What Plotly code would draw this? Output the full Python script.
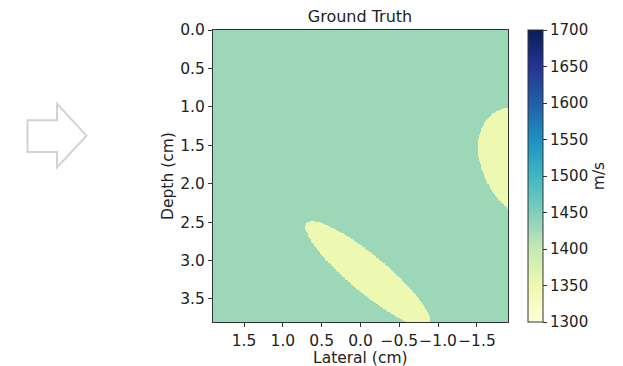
import numpy as np
import plotly.graph_objects as go

# Imaging window (cm)
lateral_limits = [-1.9, 1.9]
depth_limits = [0.0, 3.8]
grid_points = 400

# Sound-speed phantom: homogeneous background with elliptical inclusions
background_speed = 1430
inc_lateral = [-0.09, -2.14]      # centre, lateral (cm)
inc_depth = [3.17, 1.75]          # centre, depth (cm)
inc_semi_major = [1.03, 0.80]     # cm
inc_semi_minor = [0.24, 0.56]     # cm
inc_angle_deg = [140.0, 120.0]    # major-axis orientation
inc_speed = [1350, 1350]          # m/s

speed_ticks = [1300, 1350, 1400, 1450, 1500, 1550, 1600, 1650, 1700]
lateral_ticks = [1.5, 1.0, 0.5, 0.0, -0.5, -1.0, -1.5]
depth_ticks = [0.0, 0.5, 1.0, 1.5, 2.0, 2.5, 3.0, 3.5]

ylgnbu = ['rgb(255,255,217)', 'rgb(237,248,177)', 'rgb(199,233,180)',
          'rgb(127,205,187)', 'rgb(65,182,196)', 'rgb(29,145,192)',
          'rgb(34,94,168)', 'rgb(37,52,148)', 'rgb(8,29,88)']
colorscale = [[i / (len(ylgnbu) - 1), c] for i, c in enumerate(ylgnbu)]

# Rasterise the phantom on a regular grid
lat = np.linspace(lateral_limits[0], lateral_limits[1], grid_points)
dep = np.linspace(depth_limits[0], depth_limits[1], grid_points)
LAT, DEP = np.meshgrid(lat, dep)
speed = np.full(LAT.shape, float(background_speed))
for cx, cy, a, b, ang, c in zip(inc_lateral, inc_depth, inc_semi_major,
                                 inc_semi_minor, inc_angle_deg, inc_speed):
    t = np.deg2rad(ang)
    dx, dy = LAT - cx, DEP - cy
    u = dx * np.cos(t) + dy * np.sin(t)
    v = -dx * np.sin(t) + dy * np.cos(t)
    speed[(u / a) ** 2 + (v / b) ** 2 <= 1.0] = c

font_family = "DejaVu Sans"
fs = 15.5
txt = "#222222"

fig = go.Figure(go.Heatmap(
    x=lat, y=dep, z=speed,
    zmin=speed_ticks[0], zmax=speed_ticks[-1],
    colorscale=colorscale, zsmooth="best",
    colorbar=dict(
        thickness=15, len=1, lenmode="fraction",
        x=1.0665, xanchor="left", y=0.5, yanchor="middle",
        xpad=0, ypad=0,
        outlinewidth=1, outlinecolor="#333333",
        ticks="outside", ticklen=4, tickcolor="#333333",
        tickvals=speed_ticks, tickfont=dict(size=15, color=txt),
        title=dict(text="m/s", side="right", font=dict(size=fs, color=txt)),
    ),
    showscale=True,
))

W, H = 623, 366
ml, mr, mt, mb = 213, 115, 29.5, 43.5
pw, ph = W - ml - mr, H - mt - mb


def px(xp, yp):
    """Convert window pixels to paper coordinates."""
    return (xp - ml) / pw, 1 - (yp - mt) / ph


# Decorative outline arrow on the left
arrow_pts = [(27.5, 120), (57, 120), (57, 103.5), (86.5, 135.5),
             (57, 167.5), (57, 152), (27.5, 152)]
path = "M " + " L ".join("%.4f,%.4f" % px(x, y) for x, y in arrow_pts) + " Z"
fig.add_shape(type="path", path=path, xref="paper", yref="paper",
              line=dict(color="#d2d2d2", width=2), fillcolor="white")

# Axis titles placed explicitly
xt_x, xt_y = px(360, 358.5)
fig.add_annotation(text="Lateral (cm)", xref="paper", yref="paper",
                   x=xt_x, y=xt_y, xanchor="center", yanchor="middle",
                   showarrow=False, font=dict(size=fs, color=txt))
yt_x, yt_y = px(168, 176)
fig.add_annotation(text="Depth (cm)", xref="paper", yref="paper",
                   x=yt_x, y=yt_y, xanchor="center", yanchor="middle",
                   textangle=-90, showarrow=False, font=dict(size=fs, color=txt))

axis_common = dict(
    showline=True, linecolor="#333333", linewidth=1, mirror=True,
    ticks="outside", ticklen=4, tickcolor="#333333", tickangle=0,
    showgrid=False, zeroline=False, automargin=False,
    tickfont=dict(size=fs, color=txt),
)
fig.update_layout(
    width=W, height=H,
    margin=dict(l=ml, r=mr, t=mt, b=mb, autoexpand=False),
    paper_bgcolor="white", plot_bgcolor="white",
    font=dict(family=font_family, size=fs, color=txt),
    title=dict(text="Ground Truth", x=360 / W, xanchor="center",
               y=1 - 16 / H, yanchor="middle", font=dict(size=16)),
    xaxis=dict(range=[lateral_limits[1], lateral_limits[0]],
               tickvals=lateral_ticks,
               ticktext=[("%.1f" % v).replace("-", "\u2212") for v in lateral_ticks],
               **axis_common),
    yaxis=dict(range=[depth_limits[1], depth_limits[0]],
               tickvals=depth_ticks,
               ticktext=["%.1f" % v for v in depth_ticks],
               **axis_common),
)

fig.write_html("out.html")
